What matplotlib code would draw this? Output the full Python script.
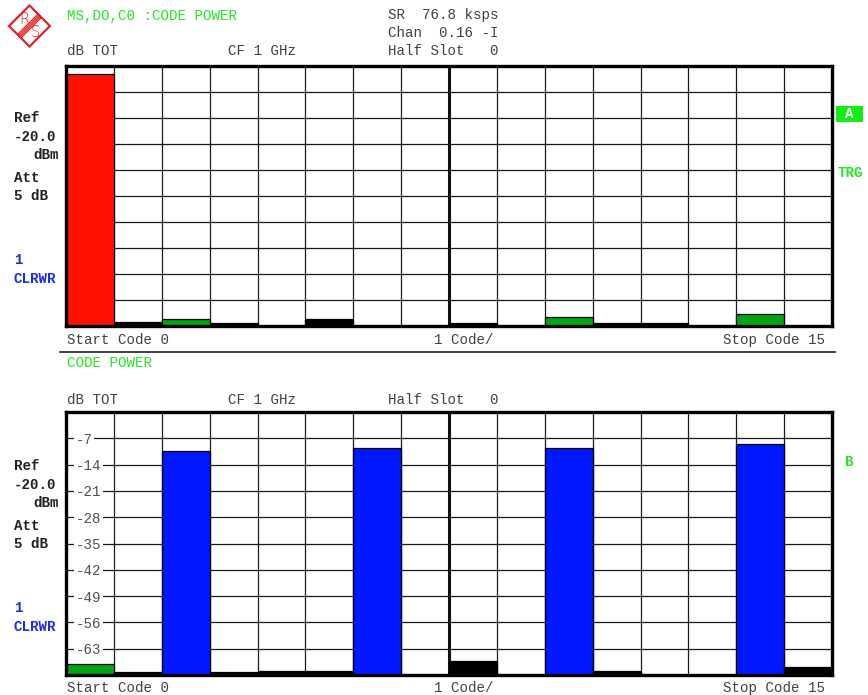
import matplotlib
matplotlib.use("Agg")
import matplotlib.pyplot as plt
from matplotlib.patches import Polygon, Rectangle

# ---- data -------------------------------------------------------------
codes = list(range(16))
# code domain power, dB relative to total, upper trace (channel 0.16 -I)
upper_power = [-2.2, -68.9, -68.0, -69.1, -70.0, -68.1, -70.0, -70.0,
               -69.1, -70.0, -67.5, -69.1, -69.1, -70.0, -66.9, -70.0]
# lower trace (code power overview)
lower_power = [-67.2, -69.1, -10.4, -69.3, -69.0, -69.0, -9.6, -70.0,
               -66.2, -70.0, -9.6, -69.0, -70.0, -70.0, -8.4, -67.8]
y_ticks = [-7, -14, -21, -28, -35, -42, -49, -56, -63]

# ---- styles -----------------------------------------------------------
RED, GREEN, BLUE, BLACK = "#ff1100", "#00a514", "#0018ff", "#000000"
TXT_GREEN = "#22e622"
TXT_GRAY = "#404040"
MONO = "Liberation Mono"
FS = 10.2

upper_colors = [RED, BLACK, GREEN, BLACK, BLACK, BLACK, BLACK, BLACK,
                BLACK, BLACK, GREEN, BLACK, BLACK, BLACK, GREEN, BLACK]
lower_colors = [GREEN, BLACK, BLUE, BLACK, BLACK, BLACK, BLUE, BLACK,
                BLACK, BLACK, BLUE, BLACK, BLACK, BLACK, BLUE, BLACK]

W, H = 868, 695
fig = plt.figure(figsize=(W / 100, H / 100), dpi=100)
fig.patch.set_facecolor("white")

YMIN, YMAX = -70, 0


def panel(rect_px, values, colors, show_ticks):
    left, top, right, bottom = rect_px
    ax = fig.add_axes([left / W, 1 - bottom / H, (right - left) / W,
                       (bottom - top) / H])
    ax.set_xlim(0, 16)
    ax.set_ylim(YMIN, YMAX)
    ax.set_axisbelow(True)
    heights = [v - YMIN for v in values]
    ax.bar(codes, heights, bottom=YMIN, width=1, align="edge",
           color=colors, edgecolor="black", linewidth=0.9, zorder=2)
    ax.set_xticks(range(0, 17))
    ax.set_yticks(y_ticks)
    ax.grid(True, color="#1a1a1a", linewidth=0.9)
    ax.axvline(8, color="#111111", linewidth=2.2, zorder=1)
    ax.tick_params(axis="x", length=0, labelbottom=False)
    if show_ticks:
        ax.set_yticklabels([str(t) for t in y_ticks])
        ax.tick_params(axis="y", length=0, direction="in", pad=-7.0)
        for lbl in ax.get_yticklabels():
            lbl.set_horizontalalignment("left")
            lbl.set_fontfamily(MONO)
            lbl.set_fontsize(FS)
            lbl.set_color("#505050")
            lbl.set_bbox(dict(facecolor="white", edgecolor="none", pad=1.2))
    else:
        ax.tick_params(axis="y", length=0, labelleft=False)
    for s in ax.spines.values():
        s.set_linewidth(2.4)
        s.set_color("black")
    return ax


ax_top = panel((66, 66, 832, 326), upper_power, upper_colors, False)
ax_bot = panel((66, 412, 832, 675), lower_power, lower_colors, True)

# ---- annotation layer in pixel coordinates ----------------------------
ov = fig.add_axes([0, 0, 1, 1], zorder=10)
ov.set_xlim(0, W)
ov.set_ylim(H, 0)
ov.axis("off")
ov.patch.set_alpha(0)


def txt(x, y, s, color=TXT_GRAY, bold=False, ha="left", **kw):
    ov.text(x, y, s, ha=ha, va="center", family=MONO, fontsize=FS,
            color=color, fontweight="bold" if bold else "normal", **kw)


# logo
cx, cy, r = 29.5, 26, 20.5
logo_red = "#e01a1a"
ov.add_patch(Polygon([(cx, cy - r), (cx + r, cy), (cx, cy + r), (cx - r, cy)],
                     closed=True, fill=False, edgecolor=logo_red, linewidth=1.5))
for d in (-2.4, -0.8, 0.8, 2.4):
    o = d * 0.7071
    ov.plot([cx - r / 2 + o, cx + r / 2 + o], [cy + r / 2 + o, cy - r / 2 + o],
            color=logo_red, linewidth=0.9)
ov.text(cx - 5, cy - 6.5, "R", ha="center", va="center", fontsize=10.5,
        color=logo_red, family="DejaVu Sans", fontweight="light")
ov.text(cx + 5.5, cy + 6.5, "S", ha="center", va="center", fontsize=10.5,
        color=logo_red, family="DejaVu Sans", fontweight="light")

# header
txt(67, 16, "MS,DO,C0 :CODE POWER", color=TXT_GREEN)
txt(388, 15, "SR  76.8 ksps")
txt(388, 33, "Chan  0.16 -I")
txt(388, 51, "Half Slot   0")
txt(67, 51, "dB TOT")
txt(228, 51, "CF 1 GHz")

# left side labels, repeated for both panels
for dy, (s, x, col) in zip(
        [118, 137, 155, 178, 196, 260, 279],
        [("Ref", 14, "#222222"), ("-20.0", 14, "#222222"), ("dBm", 33, "#222222"),
         ("Att", 14, "#222222"), ("5 dB", 14, "#222222"),
         ("1", 14, "#1a2cf0"), ("CLRWR", 14, "#1a2cf0")]):
    txt(x, dy, s, color=col, bold=True)
    txt(x, dy + 348, s, color=col, bold=True)

# right side markers
ov.add_patch(Rectangle((836, 106), 27, 16, facecolor="#11ee11", edgecolor="none"))
txt(849.5, 114, "A", color="white", bold=True, ha="center")
txt(838, 173, "TRG", color=TXT_GREEN, bold=True)
txt(845, 462, "B", color=TXT_GREEN, bold=True)

# x annotations
for y in (340, 688):
    txt(67, y, "Start Code 0")
    txt(434, y, "1 Code/")
    txt(825, y, "Stop Code 15", ha="right")

ov.plot([60, 835], [352, 352], color="#333333", linewidth=1.3)
txt(67, 363, "CODE POWER", color=TXT_GREEN)

txt(67, 400, "dB TOT")
txt(228, 400, "CF 1 GHz")
txt(388, 400, "Half Slot   0")

fig.savefig("out.png", dpi=100, facecolor="white")
